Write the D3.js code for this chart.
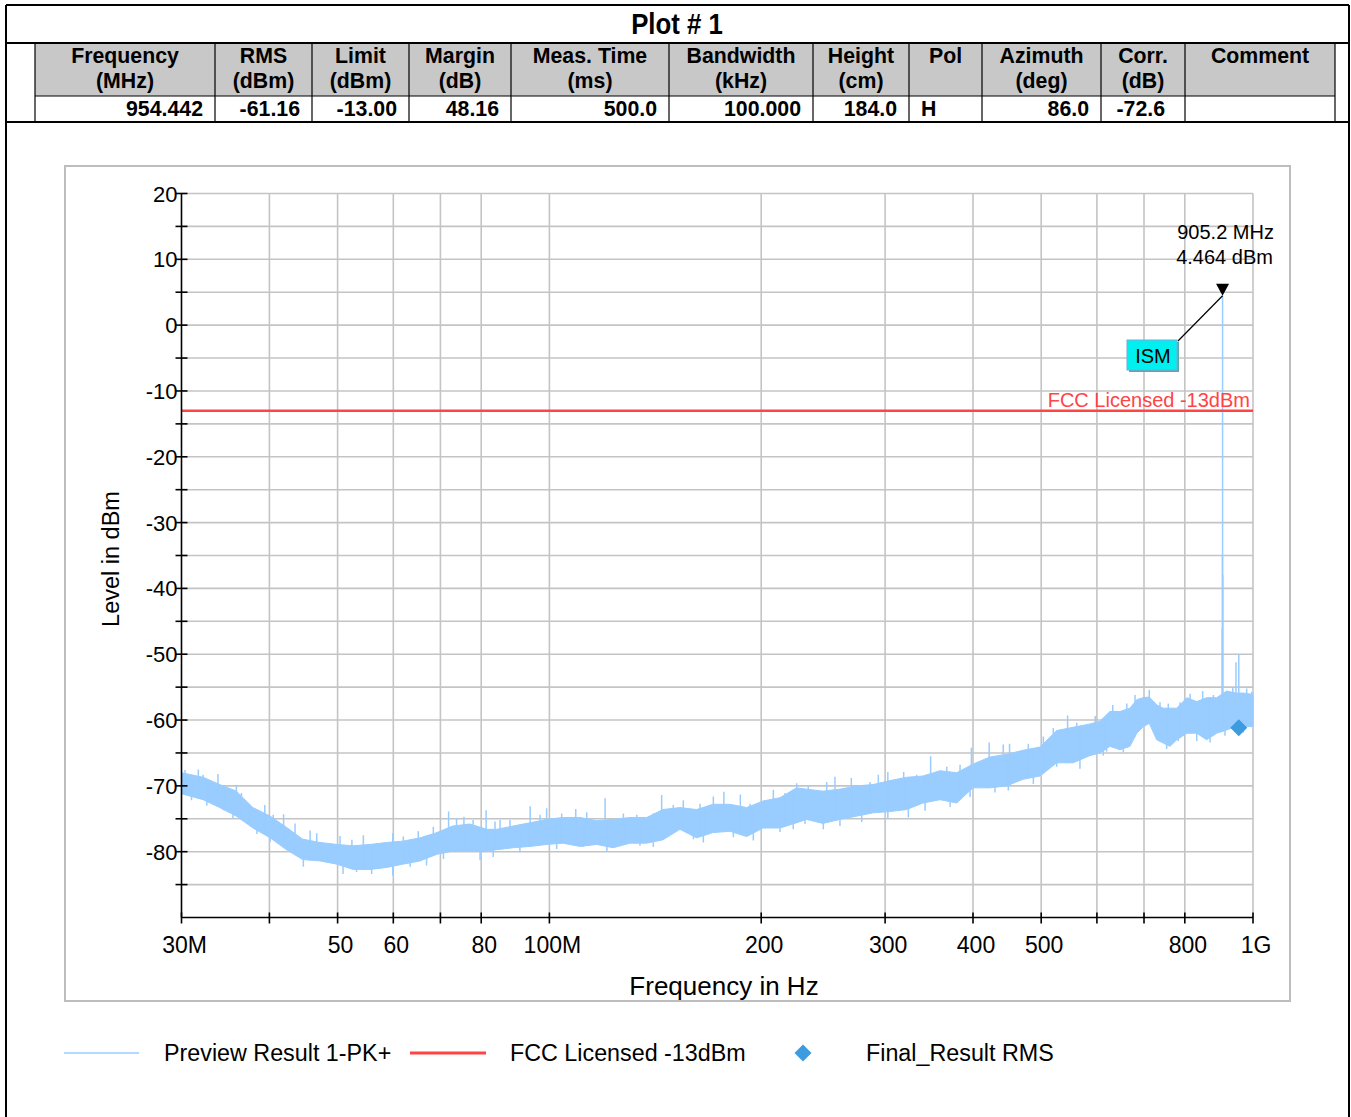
<!DOCTYPE html>
<html>
<head>
<meta charset="utf-8">
<script src="https://cdn.jsdelivr.net/npm/d3@7"></script>
<style>
  html, body { margin: 0; padding: 0; background: #fff; }
  svg { display: block; }
  .bold { font-family: "Liberation Sans", Arial, Helvetica, sans-serif; font-weight: bold; }
  .sans { font-family: "Liberation Sans", Arial, Helvetica, sans-serif; }
</style>
</head>
<body>
<svg id="chart" width="1351" height="1117"></svg>
<script>
// ---------------- DATA ----------------
const plotTitle = "Plot # 1";
const tableHead1 = ["Frequency", "RMS", "Limit", "Margin", "Meas. Time", "Bandwidth", "Height", "Pol", "Azimuth", "Corr.", "Comment"];
const tableHead2 = ["(MHz)", "(dBm)", "(dBm)", "(dB)", "(ms)", "(kHz)", "(cm)", "", "(deg)", "(dB)", ""];
const tableValues = ["954.442", "-61.16", "-13.00", "48.16", "500.0", "100.000", "184.0", "H", "86.0", "-72.6", ""];
const tableAlign = ["end", "end", "end", "end", "end", "end", "end", "start", "end", "end", "end"];

// Preview Result 1-PK+ : noise band envelope (MHz, dBm)
const freqMHz = [30, 32.2, 34, 35.9, 37.9, 40.1, 42.3, 44.6, 47.2, 49.9, 52.6, 55.6, 58.7, 61.9, 65.5, 69.2, 72.9, 77.1, 81.5, 84.2,
  88.8, 93.9, 99.1, 104.5, 110.5, 116.8, 123.2, 130.2, 137.5, 145, 153.3, 161.9, 170.8, 180.6, 190.7, 201.2, 212.7, 224.6, 232, 244.7,
  258.8, 273.4, 288.4, 304.9, 321.9, 339.6, 359.1, 379.2, 400, 423, 446.8, 471.1, 498.2, 526, 555, 586.6, 606, 626.1, 647.1, 668.5,
  683.6, 698.4, 712.2, 729.7, 745.6, 762.2, 779.2, 805.3, 831.8, 859.4, 887.9, 917.4, 945.8, 968.7, 1000];
const bandTop = [-68.0, -68.7, -69.8, -70.8, -73.3, -74.6, -76.3, -78.1, -78.6, -78.9, -79.1, -78.9, -78.6, -78.4, -77.9, -77.1, -76.1, -75.8, -76.6, -76.6,
  -76.1, -75.6, -75.1, -74.8, -74.8, -75.3, -75.1, -74.8, -74.8, -73.6, -73.3, -73.6, -72.8, -72.8, -73.3, -72.3, -71.8, -70.3, -70.5, -70.8,
  -70.5, -70.0, -69.8, -69.2, -68.7, -68.5, -67.7, -68.0, -66.7, -65.6, -65.2, -64.6, -64.1, -61.6, -61.1, -60.6, -60.2, -58.7, -58.7, -58.2,
  -56.9, -56.6, -56.5, -57.7, -58.2, -58.2, -58.2, -56.6, -57.2, -56.6, -56.6, -55.6, -55.9, -55.9, -56.1];
const bandBottom = [-71.2, -72.1, -73.3, -74.6, -76.4, -77.9, -79.7, -81.2, -81.4, -81.9, -82.7, -82.7, -82.4, -81.9, -81.4, -80.4, -79.9, -79.9, -79.9, -79.7,
  -79.4, -79.2, -78.9, -78.7, -79.2, -78.9, -79.4, -78.7, -78.7, -78.2, -76.6, -77.9, -77.1, -76.9, -77.7, -76.4, -76.4, -75.6, -75.1, -75.7,
  -75.1, -74.6, -74.1, -73.9, -73.6, -72.6, -72.1, -72.6, -70.3, -70.3, -70.0, -69.0, -68.5, -66.5, -66.5, -65.4, -65.0, -64.0, -64.5, -64.0,
  -62.0, -61.0, -60.5, -63.0, -63.5, -64.0, -63.0, -62.0, -62.0, -63.0, -62.0, -61.5, -61.0, -61.0, -61.0];
// upward peaks of the trace (MHz, dBm)
const upFreq = [30.34, 31.7, 32.2, 32.9, 33.8, 34.6, 35.9, 36.5, 37.5, 39.4, 40.5, 41.9, 43.5, 45.7, 46.7, 50.4, 52.4, 54.4, 56.8, 59.9,
  62.0, 65.1, 68.4, 71.9, 73.8, 75.6, 77.9, 81.3, 83.7, 85.1, 87.9, 93.9, 97.0, 99.1, 104.1, 109, 113, 120, 127.4, 133.1,
  140.5, 144.4, 150, 155, 163.7, 171, 177, 186.8, 192.8, 208.1, 216.2, 224.6, 233.3, 247.8, 254.6, 268.6, 285.5, 293.4, 302.7, 318.8,
  332.6, 348.2, 367.1, 383.4, 397.9, 421.7, 441.6, 450.8, 479.4, 503.5, 520.2, 545.1, 561.6, 596.7, 612.7, 631.9, 661.6, 679.8, 712.2, 737.6,
  757.9, 787.5, 814, 848, 878.2, 904.3, 904.8, 905.2, 905.7, 936, 945.8, 954.5, 979.5, 995.8];
const upLevel = [-67.6, -67.5, -68.3, -69.6, -68.2, -69.9, -70.0, -71.1, -73.1, -72.9, -74.4, -74.3, -75.7, -76.8, -77.2, -77.6, -78.2, -77.5, -78.7, -77.2,
  -77.7, -76.9, -76.2, -73.9, -74.9, -74.7, -75.2, -73.7, -75.4, -75.2, -75.2, -73.1, -74.4, -73.4, -74.2, -73.5, -74.0, -71.9, -74.2, -74.4,
  -74.2, -71.4, -72.9, -72.2, -72.7, -71.6, -70.9, -71.3, -72.7, -70.6, -71.1, -69.6, -69.9, -69.4, -68.6, -68.8, -69.4, -68.3, -67.9, -67.9,
  -68.3, -65.5, -67.1, -66.8, -64.2, -63.4, -63.7, -63.6, -63.6, -62.5, -61.2, -59.3, -60.4, -59.4, -59.7, -57.7, -57.5, -56.2, -55.4, -57.3,
  -57.5, -57.3, -56.0, -55.6, -56.2, -46.0, -35.0, 4.464, -38.0, -55.0, -51.2, -50.0, -55.2, -55.7];
// downward dips of the trace (MHz, dBm)
const downFreq = [31.0, 32.6, 34.4, 35.5, 38.4, 40.1, 44.7, 50.9, 53.2, 55.9, 59.9, 63.4, 66.9, 70.7, 79.7, 83.2, 90.8, 102.4, 111.8, 120.7,
  134.5, 140.5, 160.2, 165.5, 182.6, 194.9, 212.7, 222.1, 230.8, 245.1, 258.8, 277.9, 302.7, 323.7, 341.9, 371.2, 396.2, 429.9, 449, 487.3,
  526, 567.6, 612.7, 619.4, 654.1, 729.7, 753.9, 783.1, 831.8, 868.9, 912.4, 968.7];
const downLevel = [-72.2, -73.0, -73.7, -75.0, -77.3, -78.5, -82.3, -83.4, -83.1, -83.4, -83.6, -82.3, -82.1, -81.1, -81.3, -80.8, -80.1, -79.6, -79.3, -80.0,
  -79.1, -79.3, -78.1, -78.6, -77.8, -78.3, -77.0, -76.6, -75.8, -76.6, -76.1, -75.5, -75.0, -74.8, -73.8, -73.2, -71.7, -71.0, -70.7, -69.7,
  -67.1, -67.4, -65.4, -64.8, -64.9, -62.9, -64.4, -63.2, -63.2, -63.4, -62.4, -61.9];

const limitLevel = -13;
const limitLabel = "FCC Licensed -13dBm";
const finalFreq = [954.442];
const finalLevel = [-61.16];
const markerFreq = 905.2, markerLevel = 4.464;
const markerText = ["905.2 MHz", "4.464 dBm"];
const markerTag = "ISM";

const yTickValues = [20, 10, 0, -10, -20, -30, -40, -50, -60, -70, -80];
const yMinorValues = [15, 5, -5, -15, -25, -35, -45, -55, -65, -75, -85];
const xTickValues = [30, 50, 60, 80, 100, 200, 300, 400, 500, 800, 1000];
const xTickLabels = ["30M", "50", "60", "80", "100M", "200", "300", "400", "500", "800", "1G"];
const xGridValues = [40, 50, 60, 70, 80, 100, 200, 300, 400, 500, 600, 700, 800, 1000];
const legendLabels = ["Preview Result 1-PK+", "FCC Licensed -13dBm", "Final_Result RMS"];

// ---------------- STYLE ----------------
const traceColor = "#99ccff";
const limitColor = "#ff4444";
const finalColor = "#3d9be0";
const gridColor = "#c4c4c4";

const svg = d3.select("#chart");

// ---------- outer frame & table ----------
const fL = 6, fR = 1349, fT = 5;
const colX = [35, 215, 312, 409, 511, 669, 813, 909, 982, 1101, 1185, 1335];
const rowTitle = [fT, 43], rowHead = [43, 96], rowData = [96, 122];

svg.append("rect").attr("x", colX[0]).attr("y", rowHead[0]).attr("width", colX[colX.length - 1] - colX[0])
  .attr("height", rowHead[1] - rowHead[0]).attr("fill", "#c8c8c8");

const frame = svg.append("g").attr("stroke", "#000").attr("fill", "none");
frame.append("line").attr("x1", fL).attr("x2", fR).attr("y1", fT).attr("y2", fT).attr("stroke-width", 2);
frame.append("line").attr("x1", fL).attr("x2", fL).attr("y1", fT).attr("y2", 1117).attr("stroke-width", 2);
frame.append("line").attr("x1", fR).attr("x2", fR).attr("y1", fT).attr("y2", 1117).attr("stroke-width", 2);
frame.append("line").attr("x1", fL).attr("x2", fR).attr("y1", rowTitle[1]).attr("y2", rowTitle[1]).attr("stroke-width", 2);
frame.append("line").attr("x1", colX[0]).attr("x2", colX[colX.length - 1]).attr("y1", rowData[0]).attr("y2", rowData[0]).attr("stroke-width", 1.2);
frame.append("line").attr("x1", fL).attr("x2", fR).attr("y1", rowData[1]).attr("y2", rowData[1]).attr("stroke-width", 2);
colX.forEach(x => frame.append("line").attr("x1", x).attr("x2", x).attr("y1", rowHead[0]).attr("y2", rowData[1]).attr("stroke-width", 1.2));

svg.append("text").attr("class", "bold").attr("text-anchor", "middle")
  .attr("transform", "translate(677,34) scale(0.86,1)").attr("font-size", 30).text(plotTitle);

const tbl = svg.append("g").attr("class", "bold").attr("font-size", 21.3).attr("fill", "#000");
tableHead1.forEach((h, i) => {
  const cx = (colX[i] + colX[i + 1]) / 2;
  tbl.append("text").attr("x", cx).attr("y", 63).attr("text-anchor", "middle").text(h);
  tbl.append("text").attr("x", cx).attr("y", 88).attr("text-anchor", "middle").text(tableHead2[i]);
  const pad = i === 9 ? 20 : 12;
  const tx = tableAlign[i] === "end" ? colX[i + 1] - pad : colX[i] + 12;
  tbl.append("text").attr("x", tx).attr("y", 116).attr("text-anchor", tableAlign[i]).text(tableValues[i]);
});

// ---------- plot frame ----------
svg.append("rect").attr("x", 65).attr("y", 166).attr("width", 1225).attr("height", 835)
  .attr("fill", "#fff").attr("stroke", "#bdbdbd").attr("stroke-width", 2);

const x = d3.scaleLog().domain([30, 1000]).range([181.5, 1253]);
const y = d3.scaleLinear().domain([-90, 20]).range([917.5, 193.5]);

// grid
const grid = svg.append("g").attr("stroke", gridColor).attr("stroke-width", 1.6);
yTickValues.concat(yMinorValues).forEach(v => grid.append("line").attr("x1", x(30)).attr("x2", x(1000)).attr("y1", y(v)).attr("y2", y(v)));
xGridValues.forEach(v => grid.append("line").attr("x1", x(v)).attr("x2", x(v)).attr("y1", y(20)).attr("y2", y(-90)));

// clip
svg.append("clipPath").attr("id", "clip").append("rect")
  .attr("x", x(30)).attr("y", y(20) - 1).attr("width", x(1000) - x(30) + 1).attr("height", y(-90) - y(20) + 1);
const plot = svg.append("g").attr("clip-path", "url(#clip)");

// trace band
const band = freqMHz.map((f, i) => ({ f, hi: bandTop[i], lo: bandBottom[i] }));
const area = d3.area().x(d => x(d.f)).y0(d => y(d.lo)).y1(d => y(d.hi));
plot.append("path").datum(band).attr("d", area).attr("fill", traceColor).attr("stroke", traceColor).attr("stroke-width", 1);
const topAt = d3.scaleLog().domain(freqMHz).range(bandTop);
const botAt = d3.scaleLog().domain(freqMHz).range(bandBottom);
plot.append("g").selectAll("line").data(upFreq.map((f, i) => ({ f, v: upLevel[i] }))).join("line")
  .attr("x1", d => x(d.f)).attr("x2", d => x(d.f))
  .attr("y1", d => y(d.v)).attr("y2", d => y(botAt(d.f)))
  .attr("stroke", traceColor).attr("stroke-width", 1.5);
plot.append("g").selectAll("line").data(downFreq.map((f, i) => ({ f, v: downLevel[i] }))).join("line")
  .attr("x1", d => x(d.f)).attr("x2", d => x(d.f))
  .attr("y1", d => y(topAt(d.f))).attr("y2", d => y(d.v))
  .attr("stroke", traceColor).attr("stroke-width", 1.5);

// limit line
plot.append("line").attr("x1", x(30)).attr("x2", x(1000)).attr("y1", y(limitLevel)).attr("y2", y(limitLevel))
  .attr("stroke", limitColor).attr("stroke-width", 2.5);
svg.append("text").attr("class", "sans").attr("x", 1250).attr("y", y(limitLevel) - 4).attr("text-anchor", "end")
  .attr("font-size", 20).attr("fill", limitColor).text(limitLabel);

// final result
const diamond = (cx, cy, r) => `M${cx},${cy - r}L${cx + r},${cy}L${cx},${cy + r}L${cx - r},${cy}Z`;
svg.append("g").selectAll("path").data(finalFreq.map((f, i) => ({ f, v: finalLevel[i] }))).join("path")
  .attr("d", d => diamond(x(d.f), y(d.v), 8.5)).attr("fill", finalColor);

// marker
const mx = x(markerFreq), my = y(markerLevel);
svg.append("path").attr("d", `M${mx - 6.5},${my - 12}L${mx + 6.5},${my - 12}L${mx},${my}Z`).attr("fill", "#000");
const mt = svg.append("g").attr("class", "sans").attr("font-size", 20).attr("text-anchor", "middle");
mt.append("text").attr("x", mx + 3).attr("y", 239).text(markerText[0]);
mt.append("text").attr("x", mx + 2).attr("y", 264).text(markerText[1]);
svg.append("line").attr("x1", 1178).attr("y1", 341).attr("x2", mx).attr("y2", my).attr("stroke", "#000").attr("stroke-width", 1.2);
svg.append("rect").attr("x", 1129).attr("y", 342).attr("width", 50).attr("height", 30).attr("fill", "#5aa8a8");
svg.append("rect").attr("x", 1127).attr("y", 340).attr("width", 50).attr("height", 30).attr("fill", "#00f0f0").attr("stroke", "#7ad").attr("stroke-width", 1);
svg.append("text").attr("class", "sans").attr("x", 1153).attr("y", 363).attr("text-anchor", "middle")
  .attr("font-size", 20).text(markerTag);

// axes
const ax = svg.append("g").attr("stroke", "#000").attr("stroke-width", 1.6);
ax.append("line").attr("x1", x(30)).attr("x2", x(30)).attr("y1", y(20)).attr("y2", y(-90));
ax.append("line").attr("x1", x(30)).attr("x2", x(1000)).attr("y1", y(-90)).attr("y2", y(-90));
yTickValues.concat(yMinorValues).forEach(v => ax.append("line").attr("x1", x(30) - 6).attr("x2", x(30) + 6).attr("y1", y(v)).attr("y2", y(v)));
[30].concat(xGridValues).forEach(v => ax.append("line").attr("x1", x(v)).attr("x2", x(v)).attr("y1", y(-90) - 5).attr("y2", y(-90) + 6));

const tly = svg.append("g").attr("class", "sans").attr("font-size", 22).attr("fill", "#000");
yTickValues.forEach(v => tly.append("text").attr("x", x(30) - 4).attr("y", y(v) + 8).attr("text-anchor", "end").text(v));
const tlx = svg.append("g").attr("class", "sans").attr("font-size", 23).attr("fill", "#000");
xTickValues.forEach((v, i) => tlx.append("text").attr("x", x(v) + 3).attr("y", 953).attr("text-anchor", "middle").text(xTickLabels[i]));

svg.append("text").attr("class", "sans").attr("font-size", 23.5).attr("text-anchor", "middle")
  .attr("transform", "translate(119,559) rotate(-90)").text("Level in dBm");
svg.append("text").attr("class", "sans").attr("font-size", 26).attr("text-anchor", "middle")
  .attr("x", 724).attr("y", 995).text("Frequency in Hz");

// legend
const lg = svg.append("g").attr("class", "sans").attr("font-size", 23.3);
const ly = 1053;
lg.append("line").attr("x1", 64).attr("x2", 139).attr("y1", ly).attr("y2", ly).attr("stroke", traceColor).attr("stroke-width", 1.5);
lg.append("text").attr("x", 164).attr("y", ly + 8).text(legendLabels[0]);
lg.append("line").attr("x1", 410).attr("x2", 486).attr("y1", ly).attr("y2", ly).attr("stroke", limitColor).attr("stroke-width", 3);
lg.append("text").attr("x", 510).attr("y", ly + 8).text(legendLabels[1]);
lg.append("path").attr("d", diamond(803, ly, 8.5)).attr("fill", finalColor);
lg.append("text").attr("x", 866).attr("y", ly + 8).text(legendLabels[2]);
</script>
</body>
</html>
